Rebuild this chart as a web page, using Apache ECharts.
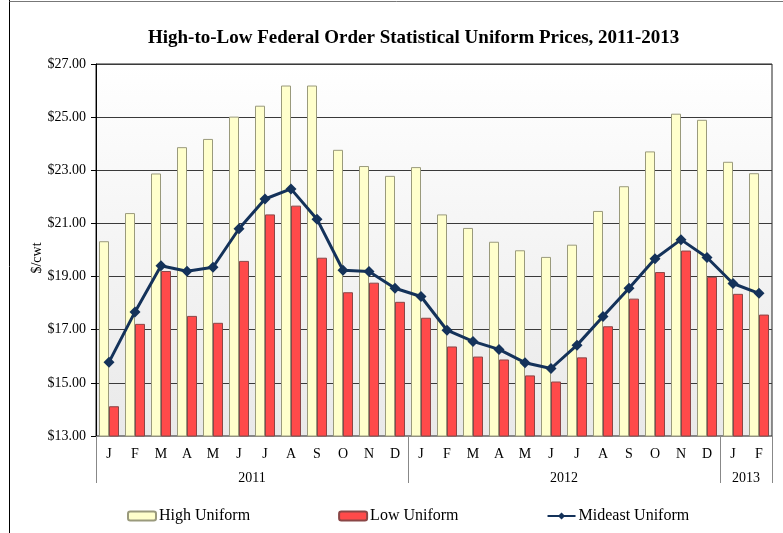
<!DOCTYPE html>
<html>
<head>
<meta charset="utf-8">
<script src="https://cdn.jsdelivr.net/npm/echarts@6/dist/echarts.min.js"></script>
<style>
  html, body { margin: 0; padding: 0; background: #fff; }
  #chart { width: 783px; height: 533px; }
</style>
</head>
<body>
<div id="chart"></div>
<script>
// Monthly uniform prices, Jan 2011 – Feb 2013 ($/cwt)
const months = ['J','F','M','A','M','J','J','A','S','O','N','D',
                'J','F','M','A','M','J','J','A','S','O','N','D',
                'J','F'];
const years = ['2011', '2012', '2013'];
const yearCenters = [6, 18, 25];      // middle of each year's block of months
const yearBounds = [0, 12, 24, 26];   // block edges

const highUniform = [20.33, 21.39, 22.88, 23.87, 24.18, 25.02, 25.43, 26.19, 26.19, 23.77, 23.16, 22.79,
                     23.12, 21.34, 20.83, 20.31, 19.99, 19.74, 20.20, 21.47, 22.40, 23.71, 25.13, 24.90,
                     23.32, 22.89];
const lowUniform  = [14.12, 17.22, 19.21, 17.52, 17.26, 19.59, 21.34, 21.67, 19.71, 18.41, 18.77, 18.05,
                     17.45, 16.37, 15.99, 15.88, 15.28, 15.05, 15.96, 17.13, 18.17, 19.17, 19.98, 18.99,
                     18.35, 17.57];
const mideastUniform = [15.78, 17.67, 19.41, 19.20, 19.35, 20.80, 21.92, 22.30, 21.16, 19.24, 19.19, 18.56,
                        18.25, 16.98, 16.56, 16.26, 15.76, 15.54, 16.42, 17.50, 18.56, 19.67, 20.39, 19.72,
                        18.74, 18.37];

const serif = "'Liberation Serif', 'Times New Roman', serif";

const chart = echarts.init(document.getElementById('chart'), null, { renderer: 'canvas' });

chart.setOption({
  animation: false,
  backgroundColor: '#ffffff',
  title: {
    text: 'High-to-Low Federal Order Statistical Uniform Prices, 2011-2013',
    left: 148,
    top: 29,
    padding: 0,
    textStyle: { fontFamily: serif, fontSize: 19, fontWeight: 'bold', color: '#000' }
  },
  legend: {
    left: 127,
    top: 508,
    padding: 0,
    itemGap: 88,
    itemWidth: 28,
    itemHeight: 9,
    textStyle: { fontFamily: serif, fontSize: 16, color: '#000', padding: [0, 0, 0, -2] },
    data: ['High Uniform', 'Low Uniform', 'Mideast Uniform']
  },
  grid: {
    left: 96, right: 11, top: 64, bottom: 97,
    show: true,
    borderColor: '#222',
    borderWidth: 1,
    backgroundColor: {
      type: 'linear', x: 0, y: 0, x2: 0, y2: 1,
      colorStops: [{ offset: 0, color: '#ffffff' }, { offset: 1, color: '#e9e9e9' }]
    }
  },
  xAxis: [
    {
      type: 'category',
      data: months,
      position: 'bottom',
      axisLine: { show: true, lineStyle: { color: '#888', width: 1 } },
      axisTick: { show: false },
      axisLabel: { interval: 0, margin: 11, fontFamily: serif, fontSize: 14, color: '#000' }
    },
    {
      type: 'value',
      min: 0, max: 26,
      position: 'bottom',
      axisLine: { show: false },
      splitLine: { show: false },
      axisTick: {
        show: true, length: 47, customValues: yearBounds,
        lineStyle: { color: '#888', width: 1 }
      },
      axisLabel: {
        show: true, margin: 35, customValues: yearCenters,
        fontFamily: serif, fontSize: 14, color: '#000',
        formatter: function (v) { return years[yearCenters.indexOf(v)] || ''; }
      }
    }
  ],
  yAxis: {
    type: 'value',
    min: 13, max: 27, interval: 2,
    name: '$/cwt',
    nameLocation: 'middle',
    nameGap: 52,
    nameMoveOverlap: false,
    nameTextStyle: { fontFamily: serif, fontSize: 14, color: '#000', padding: [0, 16, 0, 0] },
    axisLine: { show: true, lineStyle: { color: '#000', width: 1 } },
    axisTick: { show: true, length: 5, lineStyle: { color: '#000' } },
    axisLabel: {
      margin: 10, fontFamily: serif, fontSize: 14, color: '#000',
      formatter: function (v) { return '$' + v.toFixed(2); }
    },
    splitLine: { show: true, lineStyle: { color: '#3a3a3a', width: 1 } }
  },
  series: [
    {
      name: 'High Uniform',
      type: 'bar',
      xAxisIndex: 0,
      data: highUniform,
      barWidth: 10,
      barGap: '0%',
      itemStyle: { color: '#ffffcc', borderColor: '#9a9a7c', borderWidth: 1 }
    },
    {
      name: 'Low Uniform',
      type: 'bar',
      xAxisIndex: 0,
      data: lowUniform,
      barWidth: 10,
      barGap: '0%',
      itemStyle: { color: '#ff4a4a', borderColor: '#8a4646', borderWidth: 1 }
    },
    {
      name: 'Mideast Uniform',
      type: 'line',
      xAxisIndex: 0,
      data: mideastUniform,
      symbol: 'diamond',
      symbolSize: 11,
      lineStyle: { color: '#14325a', width: 3 },
      itemStyle: { color: '#14325a' },
      z: 5
    }
  ],
  graphic: [
    // outer frame of the figure
    { type: 'line', shape: { x1: 9.5, y1: 0, x2: 9.5, y2: 533 }, style: { stroke: '#000', lineWidth: 1 } },
    { type: 'line', shape: { x1: 9.5, y1: 1.5, x2: 783, y2: 1.5 }, style: { stroke: '#777', lineWidth: 1 } }
  ]
});
</script>
</body>
</html>
